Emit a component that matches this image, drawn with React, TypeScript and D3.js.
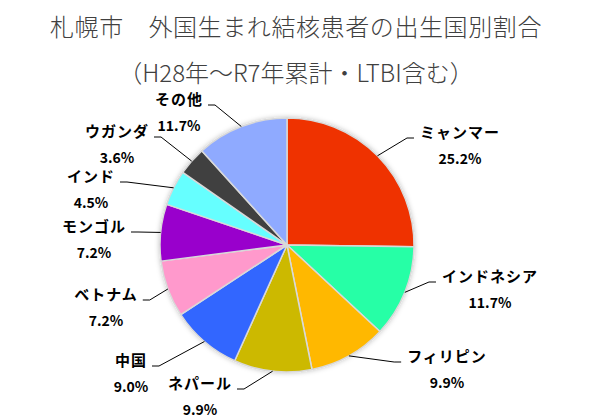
import { useEffect, useRef } from 'react';
import * as d3 from 'd3';

const countries = ['ミャンマー', 'インドネシア', 'フィリピン', 'ネパール', '中国', 'ベトナム', 'モンゴル', 'インド', 'ウガンダ', 'その他'];
const shares = [25.2, 11.7, 9.9, 9.9, 9.0, 7.2, 7.2, 4.5, 3.6, 11.7];
const colors = ['#EF3300', '#26FFA6', '#FFB800', '#CCB900', '#3366FF', '#FF99CC', '#9900CC', '#66FFFF', '#404040', '#8FAAFF'];

const titleLines = ['札幌市　外国生まれ結核患者の出生国別割合', '（H28年～R7年累計・LTBI含む）'];

// label placement (centre of the name line), side the leader line attaches to
const labelLayout: { x: number; y: number; side: 'left' | 'right' }[] = [
  { x: 460, y: 133, side: 'right' },
  { x: 490, y: 277, side: 'right' },
  { x: 447, y: 357, side: 'right' },
  { x: 200, y: 384, side: 'left' },
  { x: 131, y: 361, side: 'left' },
  { x: 106, y: 295, side: 'left' },
  { x: 94, y: 227, side: 'left' },
  { x: 91, y: 177, side: 'left' },
  { x: 117, y: 132, side: 'left' },
  { x: 179, y: 100, side: 'left' },
];

const WIDTH = 592;
const HEIGHT = 420;
const FONT = '"Noto Sans CJK JP", "Noto Sans", sans-serif';

interface Slice {
  name: string;
  value: number;
  color: string;
}

const PieChart = () => {
  const svgRef = useRef<SVGSVGElement>(null);

  useEffect(() => {
    if (!svgRef.current) return;
    const svg = d3.select(svgRef.current);
    svg.selectAll('*').remove();

    const data: Slice[] = countries.map((name, i) => ({ name, value: shares[i], color: colors[i] }));

    const cx = 287;
    const cy = 245;
    const radius = 127;

    svg.append('rect').attr('width', WIDTH).attr('height', HEIGHT).attr('fill', '#fff');

    const defs = svg.append('defs');
    const filter = defs.append('filter').attr('id', 'pieShadow').attr('x', '-20%').attr('y', '-20%').attr('width', '140%').attr('height', '140%');
    filter.append('feDropShadow')
      .attr('dx', 0).attr('dy', 0).attr('stdDeviation', 2.5)
      .attr('flood-color', '#000').attr('flood-opacity', 0.25);

    // Title
    const title = svg.append('g').attr('font-family', FONT).attr('font-weight', 300).attr('fill', '#404040').attr('text-anchor', 'middle');
    title.append('text')
      .attr('x', WIDTH / 2).attr('y', 36)
      .attr('font-size', 24).attr('letter-spacing', 0.6)
      .text(titleLines[0]);
    title.append('text')
      .attr('x', WIDTH / 2).attr('y', 82)
      .attr('font-size', 24)
      .text(titleLines[1]);

    const pie = d3.pie<Slice>().value(d => d.value).sort(null).startAngle(0).endAngle(2 * Math.PI);
    const arcs = pie(data);
    const arc = d3.arc<d3.PieArcDatum<Slice>>().innerRadius(0).outerRadius(radius);
    const edge = d3.arc<d3.PieArcDatum<Slice>>().innerRadius(radius).outerRadius(radius);

    const g = svg.append('g').attr('transform', `translate(${cx},${cy})`);

    g.append('g')
      .attr('filter', 'url(#pieShadow)')
      .selectAll('path')
      .data(arcs)
      .enter().append('path')
      .attr('d', arc)
      .attr('fill', d => d.data.color)
      .attr('stroke', '#D9D9D9')
      .attr('stroke-width', 1.5)
      .attr('stroke-linejoin', 'round');

    // Labels
    const labels = svg.append('g').attr('font-family', FONT).attr('font-weight', 700).attr('fill', '#000');
    const lines = svg.append('g');

    arcs.forEach((a, i) => {
      const pos = labelLayout[i];
      const name = labels.append('text')
        .attr('x', pos.x).attr('y', pos.y)
        .attr('dy', '0.35em')
        .attr('text-anchor', 'middle')
        .attr('font-size', 15)
        .attr('letter-spacing', 1)
        .text(a.data.name);
      labels.append('text')
        .attr('x', pos.x).attr('y', pos.y + 26)
        .attr('dy', '0.35em')
        .attr('text-anchor', 'middle')
        .attr('font-size', 14)
        .text(`${a.data.value.toFixed(1)}%`);

      const w = (name.node() as SVGTextElement).getComputedTextLength();
      const [ex, ey] = edge.centroid(a);
      const start: [number, number] = [cx + ex, cy + ey];
      let end: [number, number];
      let elbow: [number, number];
      if (pos.side === 'right') {
        end = [pos.x - w / 2 - 6, pos.y + 5];
        elbow = [end[0] - 7, end[1]];
      } else {
        end = [pos.x + w / 2 + 5, pos.y + 5];
        elbow = [end[0] + 7, end[1]];
      }
      lines.append('path')
        .attr('d', d3.line()([start, elbow, end]))
        .attr('fill', 'none')
        .attr('stroke', '#000')
        .attr('stroke-width', 1);
    });
  }, []);

  return <svg ref={svgRef} width={WIDTH} height={HEIGHT} style={{ display: 'block' }} />;
};

export default function App() {
  useEffect(() => {
    document.body.style.margin = '0';
  }, []);
  return <PieChart />;
}
